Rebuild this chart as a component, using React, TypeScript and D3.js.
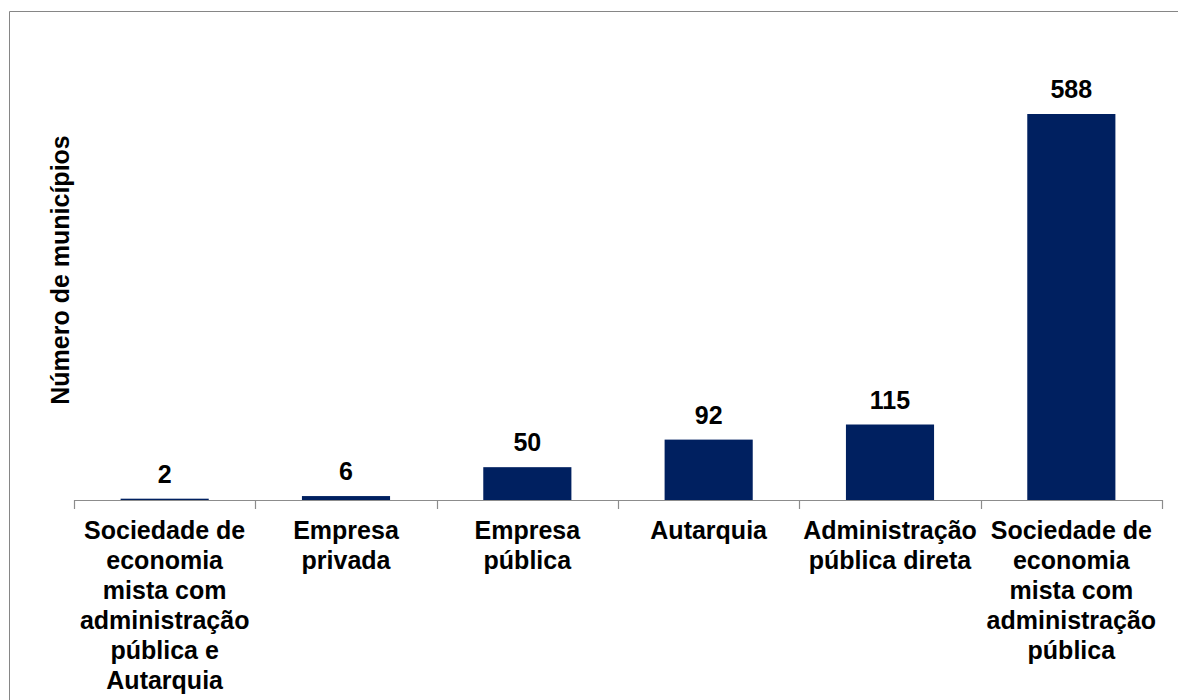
import React from "react";
import * as d3 from "d3";

const categories: string[] = [
  "Sociedade de\neconomia\nmista com\nadministração\npública e\nAutarquia",
  "Empresa\nprivada",
  "Empresa\npública",
  "Autarquia",
  "Administração\npública direta",
  "Sociedade de\neconomia\nmista com\nadministração\npública",
];
const values: number[] = [2, 6, 50, 92, 115, 588];
const yTitle = "Número de municípios";

const W = 1178;
const H = 700;
const left = 74;
const right = 1162;
const baseY = 500;
const FONT = "'Liberation Sans', Arial, sans-serif";
const FS = 25;

export default function App() {
  const x = d3.scaleBand<number>().domain(d3.range(categories.length)).range([left, right]).paddingInner(0.514).paddingOuter(0.257);
  const band = (right - left) / categories.length;
  const y = d3.scaleLinear().domain([0, 700]).range([baseY, baseY - 700 * (386 / 588)]);
  const ticks = d3.range(categories.length + 1).map((i) => left + i * band);
  return (
    <svg width={W} height={H} style={{ position: "absolute", left: 0, top: 0, background: "#fff", display: "block" }} fontFamily={FONT}>
      <path d={`M9.5,${H} V11.5 H${W}`} fill="none" stroke="#868686" strokeWidth={1} />
      {values.map((v, i) => (
        <rect key={i} x={x(i)} y={y(v)} width={x.bandwidth()} height={baseY - y(v)} fill="#002060" />
      ))}
      <line x1={left} x2={right} y1={baseY + 0.5} y2={baseY + 0.5} stroke="#8c8c8c" strokeWidth={1.2} />
      {ticks.map((t, i) => (
        <line key={i} x1={Math.round(t) + 0.5} x2={Math.round(t) + 0.5} y1={baseY} y2={baseY + 9} stroke="#8c8c8c" strokeWidth={1.2} />
      ))}
      {values.map((v, i) => (
        <text key={i} x={x(i)! + x.bandwidth() / 2} y={y(v) - 16} textAnchor="middle" fontSize={FS} fontWeight="bold" fill="#000">
          {v}
        </text>
      ))}
      {categories.map((c, i) => (
        <text key={i} x={x(i)! + x.bandwidth() / 2} y={539} textAnchor="middle" fontSize={FS} fontWeight="bold" fill="#000">
          {c.split("\n").map((line, j) => (
            <tspan key={j} x={x(i)! + x.bandwidth() / 2} y={539 + j * 30}>
              {line}
            </tspan>
          ))}
        </text>
      ))}
      <text transform={`translate(69, ${270}) rotate(-90)`} textAnchor="middle" fontSize={FS} fontWeight="bold" fill="#000">
        {yTitle}
      </text>
    </svg>
  );
}
